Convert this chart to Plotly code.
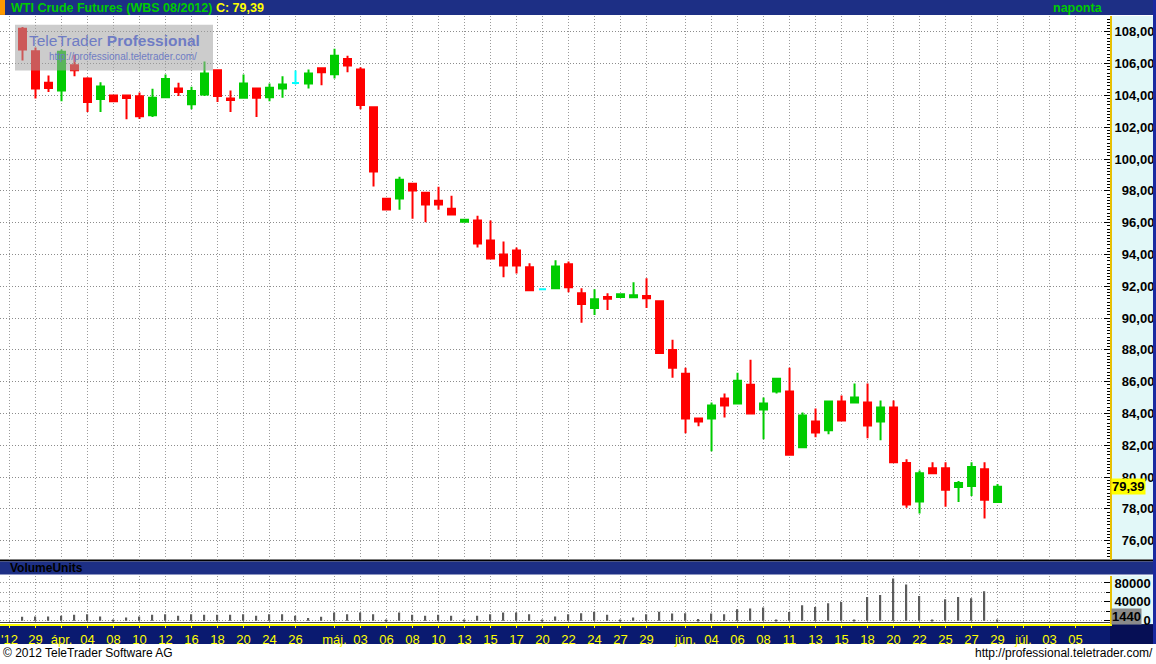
import plotly.graph_objects as go

# ---------------- data ----------------
sessions = ["2012-03-28","2012-03-29","2012-03-30","2012-04-02","2012-04-03","2012-04-04","2012-04-05","2012-04-08",
            "2012-04-09","2012-04-10","2012-04-11","2012-04-12","2012-04-13","2012-04-16","2012-04-17","2012-04-18",
            "2012-04-19","2012-04-20","2012-04-23","2012-04-24","2012-04-25","2012-04-26","2012-04-27","2012-04-30",
            "2012-05-01","2012-05-02","2012-05-03","2012-05-04","2012-05-06","2012-05-07","2012-05-08","2012-05-09",
            "2012-05-10","2012-05-11","2012-05-13","2012-05-14","2012-05-15","2012-05-16","2012-05-17","2012-05-18",
            "2012-05-20","2012-05-21","2012-05-22","2012-05-23","2012-05-24","2012-05-25","2012-05-27","2012-05-28",
            "2012-05-29","2012-05-30","2012-05-31","2012-06-01","2012-06-03","2012-06-04","2012-06-05","2012-06-06",
            "2012-06-07","2012-06-08","2012-06-10","2012-06-11","2012-06-12","2012-06-13","2012-06-14","2012-06-15",
            "2012-06-17","2012-06-18","2012-06-19","2012-06-20","2012-06-21","2012-06-22","2012-06-24","2012-06-25",
            "2012-06-26","2012-06-27","2012-06-28","2012-06-29"]

opens = [108.19, 106.77, 104.79, 104.31, 105.90, 105.06, 103.77, 104.00, 104.00, 103.94, 102.75, 103.88, 104.44,
         103.44, 104.06, 105.58, 103.81, 103.86, 104.44, 103.88, 104.44, 104.78, 104.75, 105.71, 105.33, 106.29,
         105.63, 103.25, 97.50, 97.52, 98.44, 97.88, 97.38, 96.88, 96.06, 96.13, 94.88, 94.00, 94.25, 93.19,
         91.81, 91.88, 93.38, 91.56, 90.63, 91.33, 91.33, 91.31, 91.38, 91.06, 88.00, 86.50, 83.69, 83.69,
         84.94, 84.63, 85.81, 84.25, 85.38, 85.38, 81.88, 83.50, 82.94, 84.75, 84.69, 84.69, 83.50, 84.38,
         80.88, 78.46, 80.56, 80.56, 79.38, 79.44, 80.50, 78.44]
highs = [108.30, 107.02, 105.25, 106.88, 106.56, 105.15, 104.83, 104.02, 104.04, 104.19, 104.42, 105.31, 104.79,
         104.54, 106.13, 105.64, 104.31, 105.31, 104.50, 104.75, 105.21, 105.56, 105.63, 105.75, 106.94, 106.50,
         105.77, 103.30, 97.52, 98.88, 98.50, 97.90, 98.25, 97.69, 96.19, 96.44, 96.13, 94.81, 94.44, 93.44,
         91.84, 93.63, 93.56, 91.88, 91.81, 91.56, 91.50, 92.25, 92.50, 91.08, 88.63, 86.88, 83.72, 84.69,
         85.25, 86.56, 87.38, 85.00, 86.19, 86.88, 84.06, 84.31, 84.81, 85.13, 85.88, 85.88, 84.81, 84.81,
         81.13, 80.42, 80.94, 80.94, 79.75, 80.94, 80.94, 79.56]
lows = [106.19, 103.81, 104.21, 103.64, 105.20, 102.96, 102.96, 103.62, 102.50, 102.52, 102.64, 103.86, 103.96,
        103.13, 103.96, 103.58, 102.96, 103.81, 102.64, 103.64, 103.86, 104.69, 104.44, 104.64, 105.06, 105.46,
        103.13, 98.27, 96.81, 96.81, 96.25, 96.02, 96.81, 96.46, 96.06, 94.44, 93.69, 92.56, 92.81, 91.69,
        91.78, 91.88, 91.63, 89.70, 90.19, 90.50, 91.33, 91.31, 90.63, 87.75, 86.25, 82.75, 83.19, 81.63,
        83.75, 84.56, 83.94, 82.38, 85.25, 81.38, 81.81, 82.50, 82.69, 83.56, 84.69, 82.44, 82.31, 80.88,
        78.08, 77.71, 80.21, 78.13, 78.44, 78.81, 77.39, 78.40]
closes = [106.88, 104.44, 104.46, 106.75, 105.58, 103.58, 104.56, 103.64, 103.83, 102.69, 103.86, 105.04, 104.21,
          104.27, 105.38, 103.96, 103.71, 104.75, 103.86, 104.48, 104.69, 104.78, 105.38, 105.46, 106.50, 105.88,
          103.39, 99.21, 96.83, 98.69, 98.02, 97.14, 97.14, 96.52, 96.19, 94.69, 93.75, 93.31, 93.31, 91.75,
          91.81, 93.25, 91.94, 90.88, 91.19, 91.21, 91.50, 91.44, 91.25, 87.81, 86.88, 83.69, 83.50, 84.50,
          84.50, 86.06, 84.00, 84.63, 86.19, 81.40, 83.88, 82.81, 84.75, 83.56, 85.00, 83.25, 84.38, 80.94,
          78.27, 80.25, 80.25, 79.21, 79.63, 80.63, 78.58, 79.39]
volumes = [8400, 9000, 9100, 10500, 12600, 14000, 9100, 2800, 7000, 9100, 12600, 14000, 10500, 14000, 12600,
           12600, 12600, 14000, 10500, 14000, 14000, 10500, 5600, 8400, 17500, 14000, 17500, 14000, 2000, 17500,
           12600, 10500, 12600, 10500, 2500, 10500, 14000, 17500, 17500, 14000, 1500, 9000, 14000, 16000, 19000,
           12600, 1500, 7000, 14000, 19000, 15400, 16000, 3500, 15400, 14000, 24500, 26000, 28000, 2500, 18500,
           32600, 29000, 36800, 39600, 2000, 50100, 54300, 89500, 76800, 52200, 2000, 45300, 50100, 47400,
           62700, 1440]

# x-axis labels (session slots; slots past the last session are the projected days)
tick_slots = [-1, 1, 3, 5, 7, 9, 11, 13, 15, 17, 19, 21, 24, 26, 28, 30, 32, 34, 36, 38, 40, 42, 44, 46, 48,
              51, 53, 55, 57, 59, 61, 63, 65, 67, 69, 71, 73, 75, 77, 79, 81]
tick_labels = ["'12", "29", "ápr.", "04", "08", "10", "12", "16", "18", "20", "24", "26",
               "máj.", "03", "06", "08", "10", "13", "15", "17", "20", "22", "24", "27", "29",
               "jún.", "04", "06", "08", "11", "13", "15", "18", "20", "22", "25", "27", "29",
               "júl.", "03", "05"]
price_ticks = [76, 78, 80, 82, 84, 86, 88, 90, 92, 94, 96, 98, 100, 102, 104, 106, 108]
price_minor_lines = [75, 77, 79, 81, 83, 85, 87, 89, 91, 93, 95, 97, 99, 101, 103, 105, 107]
volume_ticks = [0, 40000, 80000]
volume_grid = [20000, 60000]
volume_minor_lines = [10000, 30000, 50000, 70000, 90000]

title_name = "WTI Crude Futures (WBS 08/2012)"
period_name = "naponta"

# ---------------- layout helpers ----------------
W, H = 1156, 664
FONT = "Liberation Sans"
FIG_SP = "\u2007"


def px(x):
    return x / W


def py(y):
    return 1 - y / H


def fmt_price(v):
    return f"{v:.2f}".replace(".", ",")


def pad(s, n):
    return FIG_SP * max(0, n - len(s)) + s


slots = list(range(len(sessions)))

UP, DOWN, FLAT = "#00cc00", "#ff0000", "#00ffff"
groups = {UP: [], DOWN: [], FLAT: []}
for i, (o, c) in enumerate(zip(opens, closes)):
    key = UP if c > o else (DOWN if c < o else FLAT)
    groups[key].append(i)

fig = go.Figure()
for color, idx in groups.items():
    fig.add_trace(go.Candlestick(
        x=[slots[i] for i in idx],
        open=[opens[i] for i in idx],
        high=[highs[i] for i in idx],
        low=[lows[i] for i in idx],
        close=[closes[i] for i in idx],
        increasing=dict(line=dict(color=color, width=2), fillcolor=color),
        decreasing=dict(line=dict(color=color, width=2), fillcolor=color),
        whiskerwidth=0,
        hovertext=[sessions[i] for i in idx],
        showlegend=False, xaxis="x", yaxis="y",
    ))

fig.add_trace(go.Bar(x=slots, y=volumes, width=0.1, marker=dict(color="#5c5c5c", line=dict(width=0)),
                     xaxis="x2", yaxis="y2", showlegend=False, hovertext=sessions))

XDOM = [0, px(1110)]
XRANGE = [-1.731, 83.65]
grid_dot = "1px,2px"

price_dom = [py(563), py(16)]
vol_dom = [py(628), py(579)]
VPP = 2105  # volume units per pixel
vol_range = [-(628 - 624.5) * VPP, (624.5 - 579) * VPP]

fig.update_layout(
    width=W, height=H, margin=dict(l=0, r=0, t=0, b=0),
    paper_bgcolor="white", plot_bgcolor="white",
    boxgap=0.3, boxgroupgap=0.23, showlegend=False,
    font=dict(family=FONT, color="black"),
    xaxis=dict(domain=XDOM, range=XRANGE, anchor="y", tickmode="array", tickvals=tick_slots,
               showticklabels=False, ticks="", showgrid=True, gridcolor="#9a9a9a", griddash=grid_dot,
               zeroline=False, showline=False, rangeslider=dict(visible=False), fixedrange=True),
    xaxis2=dict(domain=XDOM, range=XRANGE, anchor="y2", matches="x", tickmode="array",
                tickvals=tick_slots, ticktext=tick_labels,
                tickfont=dict(family=FONT, size=13, color="#ffff00"),
                ticks="outside", ticklen=2, tickcolor="#ffff00", tickwidth=1,
                showgrid=True, gridcolor="#9a9a9a", griddash=grid_dot,
                showline=True, linecolor="#ffff00", linewidth=2, zeroline=False,
                rangeslider=dict(visible=False), fixedrange=True),
    yaxis=dict(domain=price_dom, range=[74.8125, 109.0], side="right", anchor="x",
               tickmode="array", tickvals=price_ticks, ticktext=[pad(fmt_price(v), 6) for v in price_ticks],
               tickfont=dict(family=FONT, size=13, color="black", weight="bold"),
               ticks="inside", ticklen=6, tickcolor="black", tickwidth=1,
               minor=dict(tickmode="linear", tick0=0, dtick=0.2, ticks="inside", ticklen=3,
                          tickcolor="black", showgrid=False),
               showgrid=True, gridcolor="#8c8c8c", griddash=grid_dot,
               showline=True, linecolor="#e8c000", linewidth=2, zeroline=False, fixedrange=True),
    yaxis3=dict(overlaying="y", range=[74.8125, 109.0], side="right", anchor="x",
                tickmode="array", tickvals=price_minor_lines, showticklabels=False, ticks="",
                showgrid=True, gridcolor="#cccccc", griddash="3px,12px", zeroline=False,
                showline=False, fixedrange=True),
    yaxis2=dict(domain=vol_dom, range=vol_range, side="right", anchor="x2",
                tickmode="array", tickvals=volume_ticks, ticktext=[pad(str(v), 5) for v in volume_ticks],
                tickfont=dict(family=FONT, size=13, color="black", weight="bold"),
                ticks="inside", ticklen=6, tickcolor="black",
                minor=dict(tickmode="array", tickvals=volume_grid, ticks="inside", ticklen=4,
                           tickcolor="black", showgrid=True, gridcolor="#9a9a9a", griddash=grid_dot),
                showgrid=True, gridcolor="#9a9a9a", griddash=grid_dot,
                showline=True, linecolor="#e8c000", linewidth=2, zeroline=False, fixedrange=True),
    yaxis4=dict(overlaying="y2", range=vol_range, side="right", anchor="x2",
                tickmode="array", tickvals=volume_minor_lines, showticklabels=False, ticks="",
                showgrid=True, gridcolor="#cccccc", griddash="3px,12px", zeroline=False,
                showline=False, fixedrange=True),
)

NAVY = "#1d2f85"
shapes = [
    # header bar
    dict(type="rect", xref="paper", yref="paper", x0=0, x1=1, y0=py(15), y1=1,
         fillcolor=NAVY, line_width=0, layer="below"),
    dict(type="rect", xref="paper", yref="paper", x0=0, x1=px(5), y0=py(15), y1=1,
         fillcolor="#ff9900", line_width=0, layer="below"),
    # right axis panels
    dict(type="rect", xref="paper", yref="paper", x0=px(1110), x1=px(1153), y0=py(563), y1=py(16),
         fillcolor="#e2f8f8", line_width=0, layer="below"),
    dict(type="rect", xref="paper", yref="paper", x0=px(1110), x1=px(1153), y0=py(628), y1=py(579),
         fillcolor="#e2f8f8", line_width=0, layer="below"),
    # separator + volume title bar
    dict(type="rect", xref="paper", yref="paper", x0=0, x1=1, y0=py(565), y1=py(563),
         fillcolor="black", line_width=0, layer="below"),
    dict(type="rect", xref="paper", yref="paper", x0=0, x1=1, y0=py(578), y1=py(565),
         fillcolor=NAVY, line_width=0, layer="below"),
    # date axis bar
    dict(type="rect", xref="paper", yref="paper", x0=0, x1=px(1110), y0=py(626.9), y1=py(625.9),
         fillcolor="black", line_width=0, layer="below"),
    dict(type="rect", xref="paper", yref="paper", x0=0, x1=1, y0=py(648), y1=py(628),
         fillcolor="#0a1a70", line_width=0, layer="below"),
    dict(type="rect", xref="paper", yref="paper", x0=px(1110), x1=1, y0=py(648), y1=py(628),
         fillcolor="#060f55", line_width=0, layer="below"),
    # right border
    dict(type="rect", xref="paper", yref="paper", x0=px(1153), x1=1, y0=py(648), y1=1,
         fillcolor="#1a2aa0", line_width=0, layer="above"),
    # logo box
    dict(type="rect", xref="paper", yref="paper", x0=px(15), x1=px(213), y0=py(71), y1=py(25),
         fillcolor="rgba(163,163,163,0.55)", line_width=0, layer="above"),
]
fig.update_layout(shapes=shapes)

last_close = closes[-1]
last_vol = volumes[-1]
annotations = [
    dict(xref="paper", yref="paper", x=px(9), y=py(8), xanchor="left", yanchor="middle", showarrow=False,
         text=f"<span style='color:#00cc00'>{title_name}</span> "
              f"<span style='color:#ffff00'>C: {fmt_price(last_close)}</span>",
         font=dict(family=FONT, size=12.5, weight="bold")),
    dict(xref="paper", yref="paper", x=px(1105), y=py(8), xanchor="right", yanchor="middle", showarrow=False,
         text=period_name, font=dict(family=FONT, size=12.5, color="#00cc00", weight="bold")),
    dict(xref="paper", yref="paper", x=px(8), y=py(571.5), xanchor="left", yanchor="middle", showarrow=False,
         text="VolumeUnits", font=dict(family=FONT, size=12, color="black", weight="bold")),
    dict(xref="paper", yref="y", x=px(1111), y=last_close, xanchor="left", yanchor="middle", showarrow=False,
         text=fmt_price(last_close), bgcolor="#ffff00", borderpad=0,
         font=dict(family=FONT, size=13, color="black", weight="bold")),
    dict(xref="paper", yref="y2", x=px(1111), y=0, yshift=4, xanchor="left", yanchor="middle", showarrow=False,
         text=str(last_vol), bgcolor="#8a8a8a", borderpad=0,
         font=dict(family=FONT, size=13, color="black", weight="bold")),
    dict(xref="paper", yref="paper", x=px(1), y=py(657), xanchor="left", yanchor="middle", showarrow=False,
         text="© 2012 TeleTrader Software AG", font=dict(family=FONT, size=12, color="black")),
    dict(xref="paper", yref="paper", x=px(1155), y=py(657), xanchor="right", yanchor="middle", showarrow=False,
         text="http://professional.teletrader.com/", font=dict(family=FONT, size=12, color="black")),
    dict(xref="paper", yref="paper", x=px(27), y=py(41), xanchor="left", yanchor="middle", showarrow=False,
         text="TeleTrader <b>Professional</b>", font=dict(family=FONT, size=15.5, color="#6f7cc4")),
    dict(xref="paper", yref="paper", x=px(47), y=py(57), xanchor="left", yanchor="middle", showarrow=False,
         text="http://professional.teletrader.com/", font=dict(family=FONT, size=10, color="#6f7cc4")),
]
fig.update_layout(annotations=annotations)

fig.write_html("out.html", config={"displayModeBar": False},
               post_script="document.body.style.margin='0';")
